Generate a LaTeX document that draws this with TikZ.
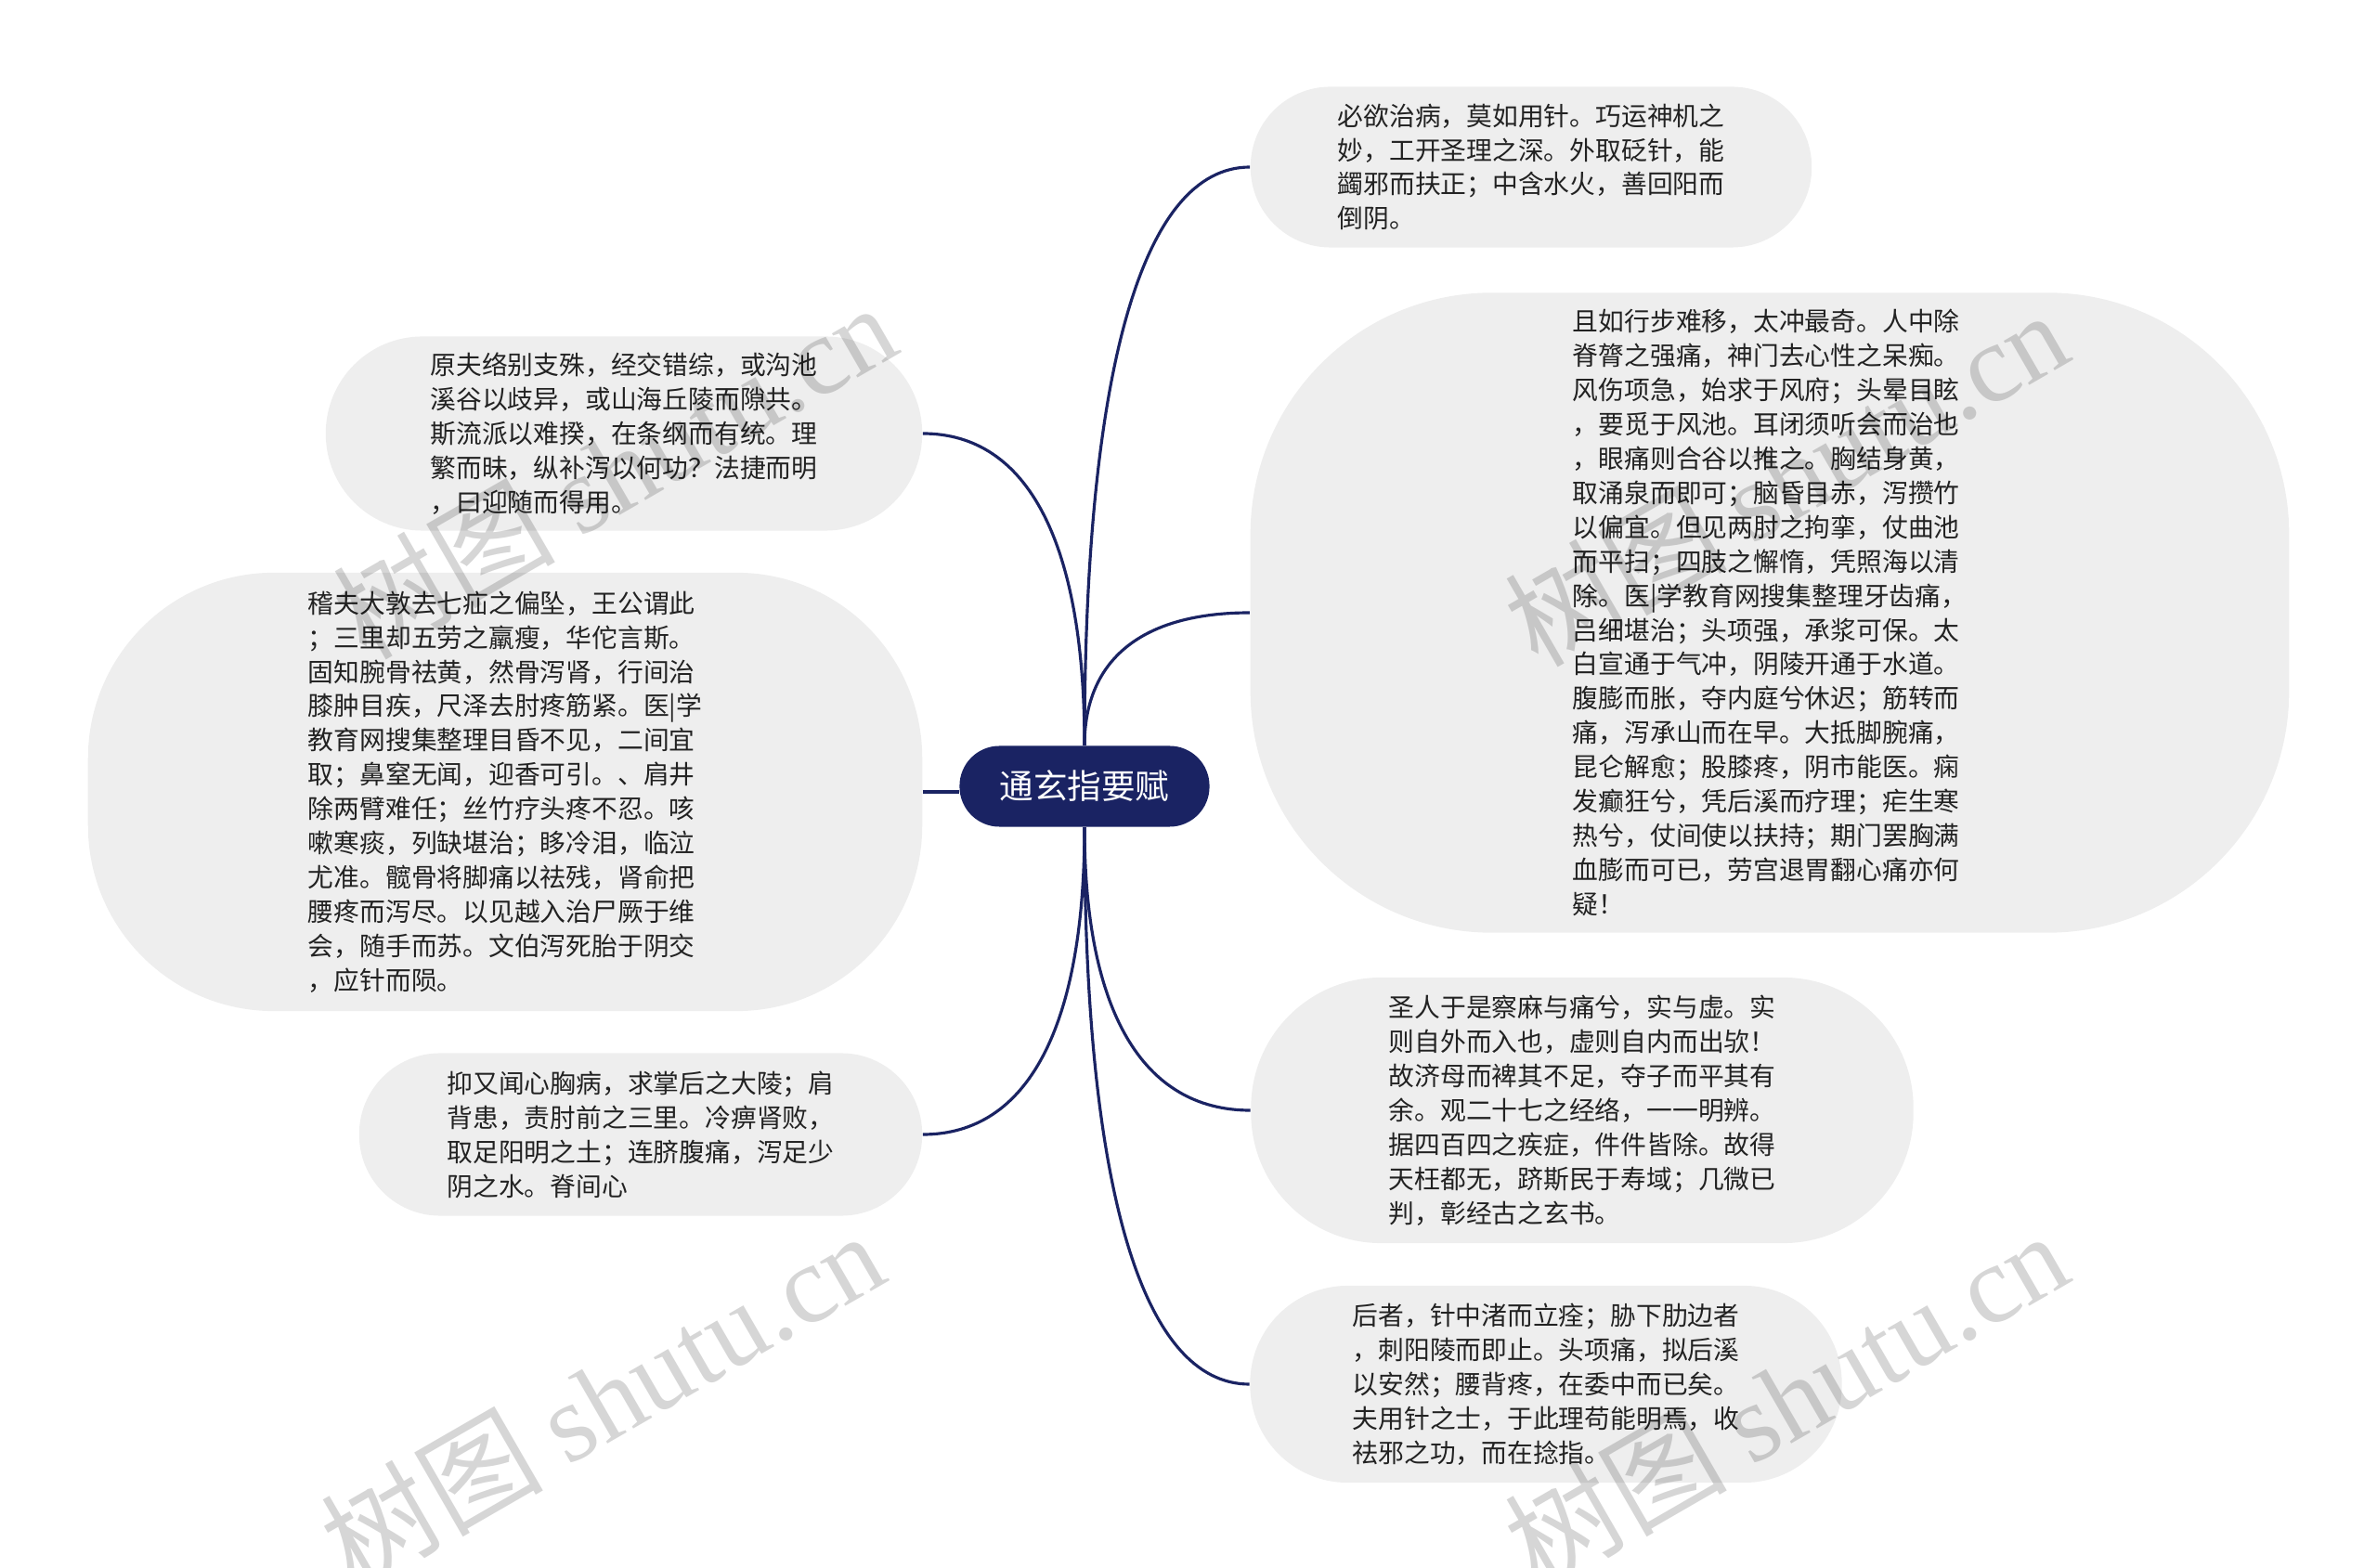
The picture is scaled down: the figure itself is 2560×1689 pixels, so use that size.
\documentclass[tikz,border=0pt]{standalone}
\usepackage{fontspec}
\setmainfont{Noto Sans CJK SC}
\newfontfamily\wmserif{Liberation Serif}
\usepackage{tikz}
\usetikzlibrary{calc}
\definecolor{topicNavy}{RGB}{26,35,99}
\definecolor{leafGray}{RGB}{238,238,238}
\definecolor{leafText}{RGB}{34,34,34}
\tikzset{
    topic/.style={
        fill=topicNavy,
        text=white,
        rounded corners=0.43cm,
        minimum width=2.69cm,
        minimum height=0.87cm,
        font=\fontsize{10.4}{12}\selectfont
    },
    leaf/.style={
        fill=leafGray,
        text=leafText,
        align=left,
        inner sep=0pt,
        font=\fontsize{7.9}{10.5}\selectfont
    },
    link/.style={
        draw=topicNavy,
        line width=0.9pt
    },
    stamp/.style={
        text=black,
        text opacity=0.16,
        rotate=30,
        font=\fontsize{34}{34}\selectfont
    }
}
% curved branch: vertical out of the topic, horizontal into the leaf
\newcommand{\twig}[2]{%
    \draw[link] (#1) .. controls ($(#1)!0.65!(#1 |- #2)$) and ($(#2)!0.65!(#1 |- #2)$) .. (#2);}

\begin{document}
\begin{tikzpicture}[x=0.01cm, y=-0.01cm]
    \useasboundingbox (0,0) rectangle (2560,1689);

    \node[topic] (c) at (1168,847) {通玄指要赋};

    % right side
    \node[leaf, minimum width=6.04cm, minimum height=1.73cm, rounded corners=0.86cm] (r1) at (1649,180) {必欲治病，莫如用针。巧运神机之\\
妙，工开圣理之深。外取砭针，能\\
蠲邪而扶正；中含水火，善回阳而\\
倒阴。};
    \node[leaf, minimum width=11.18cm, minimum height=6.89cm, rounded corners=2.6cm] (r2) at (1906,660) {且如行步难移，太冲最奇。人中除\\
脊膂之强痛，神门去心性之呆痴。\\
风伤项急，始求于风府；头晕目眩\\
，要觅于风池。耳闭须听会而治也\\
，眼痛则合谷以推之。胸结身黄，\\
取涌泉而即可；脑昏目赤，泻攒竹\\
以偏宜。但见两肘之拘挛，仗曲池\\
而平扫；四肢之懈惰，凭照海以清\\
除。医|学教育网搜集整理牙齿痛，\\
吕细堪治；头项强，承浆可保。太\\
白宣通于气冲，阴陵开通于水道。\\
腹膨而胀，夺内庭兮休迟；筋转而\\
痛，泻承山而在早。大抵脚腕痛，\\
昆仑解愈；股膝疼，阴市能医。痫\\
发癫狂兮，凭后溪而疗理；疟生寒\\
热兮，仗间使以扶持；期门罢胸满\\
血膨而可已，劳宫退胃翻心痛亦何\\
疑！};
    \node[leaf, minimum width=7.13cm, minimum height=2.86cm, rounded corners=1.4cm] (r3) at (1704,1196) {圣人于是察麻与痛兮，实与虚。实\\
则自外而入也，虚则自内而出欤！\\
故济母而裨其不足，夺子而平其有\\
余。观二十七之经络，一一明辨。\\
据四百四之疾症，件件皆除。故得\\
天枉都无，跻斯民于寿域；几微已\\
判，彰经古之玄书。};
    \node[leaf, minimum width=6.37cm, minimum height=2.12cm, rounded corners=1.05cm] (r4) at (1665,1491) {后者，针中渚而立痊；胁下肋边者\\
，刺阳陵而即止。头项痛，拟后溪\\
以安然；腰背疼，在委中而已矣。\\
夫用针之士，于此理苟能明焉，收\\
祛邪之功，而在捻指。};

    % left side
    \node[leaf, minimum width=6.42cm, minimum height=2.09cm, rounded corners=1.04cm] (l1) at (672,467) {原夫络别支殊，经交错综，或沟池\\
溪谷以歧异，或山海丘陵而隙共。\\
斯流派以难揆，在条纲而有统。理\\
繁而昧，纵补泻以何功？法捷而明\\
，曰迎随而得用。};
    \node[leaf, minimum width=8.98cm, minimum height=4.72cm, rounded corners=2cm] (l2) at (544,853) {稽夫大敦去七疝之偏坠，王公谓此\\
；三里却五劳之羸瘦，华佗言斯。\\
固知腕骨祛黄，然骨泻肾，行间治\\
膝肿目疾，尺泽去肘疼筋紧。医|学\\
教育网搜集整理目昏不见，二间宜\\
取；鼻窒无闻，迎香可引。、肩井\\
除两臂难任；丝竹疗头疼不忍。咳\\
嗽寒痰，列缺堪治；眵冷泪，临泣\\
尤准。髋骨将脚痛以祛残，肾俞把\\
腰疼而泻尽。以见越入治尸厥于维\\
会，随手而苏。文伯泻死胎于阴交\\
，应针而陨。};
    \node[leaf, minimum width=6.06cm, minimum height=1.75cm, rounded corners=0.87cm] (l3) at (690,1222) {抑又闻心胸病，求掌后之大陵；肩\\
背患，责肘前之三里。冷痹肾败，\\
取足阳明之土；连脐腹痛，泻足少\\
阴之水。脊间心};

    % branches
    \twig{c.north}{r1.west}
    \twig{c.north}{r2.west}
    \twig{c.south}{r3.west}
    \twig{c.south}{r4.west}
    \twig{c.north}{l1.east}
    \twig{c.south}{l3.east}
    \draw[link] (l2.east) -- (l2.east -| c.west);

    % watermarks
    \node[stamp] (w1) at (661,506) {树图 {\wmserif shutu.cn}};
    \node[stamp] (w2) at (1923,514) {树图 {\wmserif shutu.cn}};
    \node[stamp] (w3) at (648,1506) {树图 {\wmserif shutu.cn}};
    \node[stamp] (w4) at (1923,1506) {树图 {\wmserif shutu.cn}};
\end{tikzpicture}
\end{document}
